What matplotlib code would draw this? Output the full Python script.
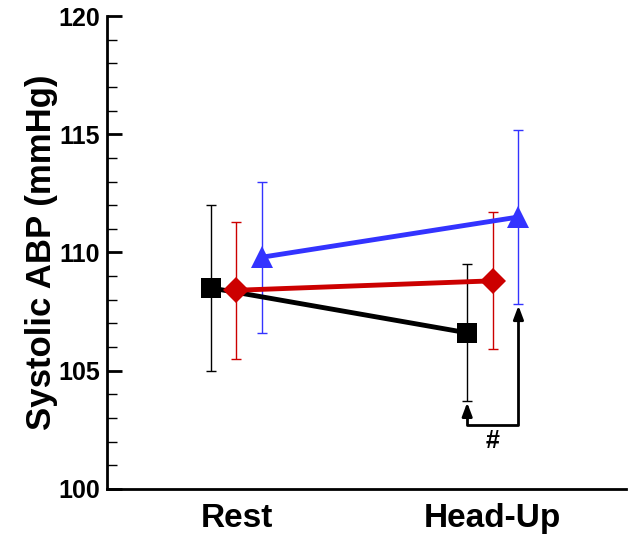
import matplotlib.pyplot as plt

plt.rcParams['font.family'] = ['Liberation Sans', 'DejaVu Sans']
plt.rcParams['font.weight'] = 'bold'

# Systolic ABP, mean and error per condition
conditions = ["Rest", "Head-Up"]
black_mean = [108.5, 106.6]
black_err = [3.5, 2.9]
red_mean = [108.4, 108.8]
red_err = [2.9, 2.9]
blue_mean = [109.8, 111.5]
blue_err = [3.2, 3.7]

x = [0, 1]
offset = 0.1

fig = plt.figure(figsize=(6.28, 5.36), dpi=100)
ax = fig.add_axes([0.170, 0.088, 0.827, 0.882])

groups = [
    (black_mean, black_err, -offset, 'black', 's', 15),
    (red_mean, red_err, 0.0, '#cc0000', 'D', 13),
    (blue_mean, blue_err, offset, '#3333ff', '^', 16),
]
for mean, err, dx, color, marker, ms in groups:
    xs = [xi + dx for xi in x]
    ax.errorbar(xs, mean, yerr=err, fmt='none', ecolor=color, elinewidth=1,
                capsize=3.5, capthick=1, zorder=2)
    ax.plot(xs, mean, color=color, lw=3.5, marker=marker, markersize=ms,
            markeredgewidth=0, zorder=3)

# significance bracket between black and blue at Head-Up
xb = x[1] - offset
xr = x[1] + offset
y_low_b = black_mean[1] - black_err[1]
y_low_r = blue_mean[1] - blue_err[1]
y_br = 102.7
ax.plot([xb, xb, xr, xr], [y_low_b - 0.4, y_br, y_br, y_low_r - 0.4], color='black', lw=2, zorder=2)
arrow = dict(arrowstyle='-|>,head_length=0.8,head_width=0.3', color='black', lw=2, shrinkA=0, shrinkB=0)
ax.annotate('', xy=(xb, y_low_b - 0.05), xytext=(xb, y_low_b - 0.5), arrowprops=arrow)
ax.annotate('', xy=(xr, y_low_r - 0.05), xytext=(xr, y_low_r - 0.5), arrowprops=arrow)
ax.text(x[1], y_br - 0.15, '#', ha='center', va='top', fontsize=18, fontweight='bold')

ax.set_xlim(-0.506, 1.52)
ax.set_ylim(100, 120)
ax.set_xticks(x)
ax.set_xticklabels(conditions, fontsize=24, fontweight='bold')
ax.tick_params(axis='x', length=0, pad=10)
ax.set_yticks([100, 105, 110, 115, 120])
ax.set_yticks(range(100, 121), minor=True)
ax.tick_params(axis='y', which='major', direction='in', length=11, width=2, labelsize=18, pad=5)
ax.tick_params(axis='y', which='minor', direction='in', length=7, width=1)
for lbl in ax.get_yticklabels():
    lbl.set_fontweight('bold')

ax.set_ylabel("Systolic ABP (mmHg)", fontsize=25, fontweight='bold', labelpad=0)

for side in ['top', 'right']:
    ax.spines[side].set_visible(False)
ax.spines['left'].set_linewidth(2)
ax.spines['bottom'].set_linewidth(2)

fig.savefig("out.png", dpi=100)
